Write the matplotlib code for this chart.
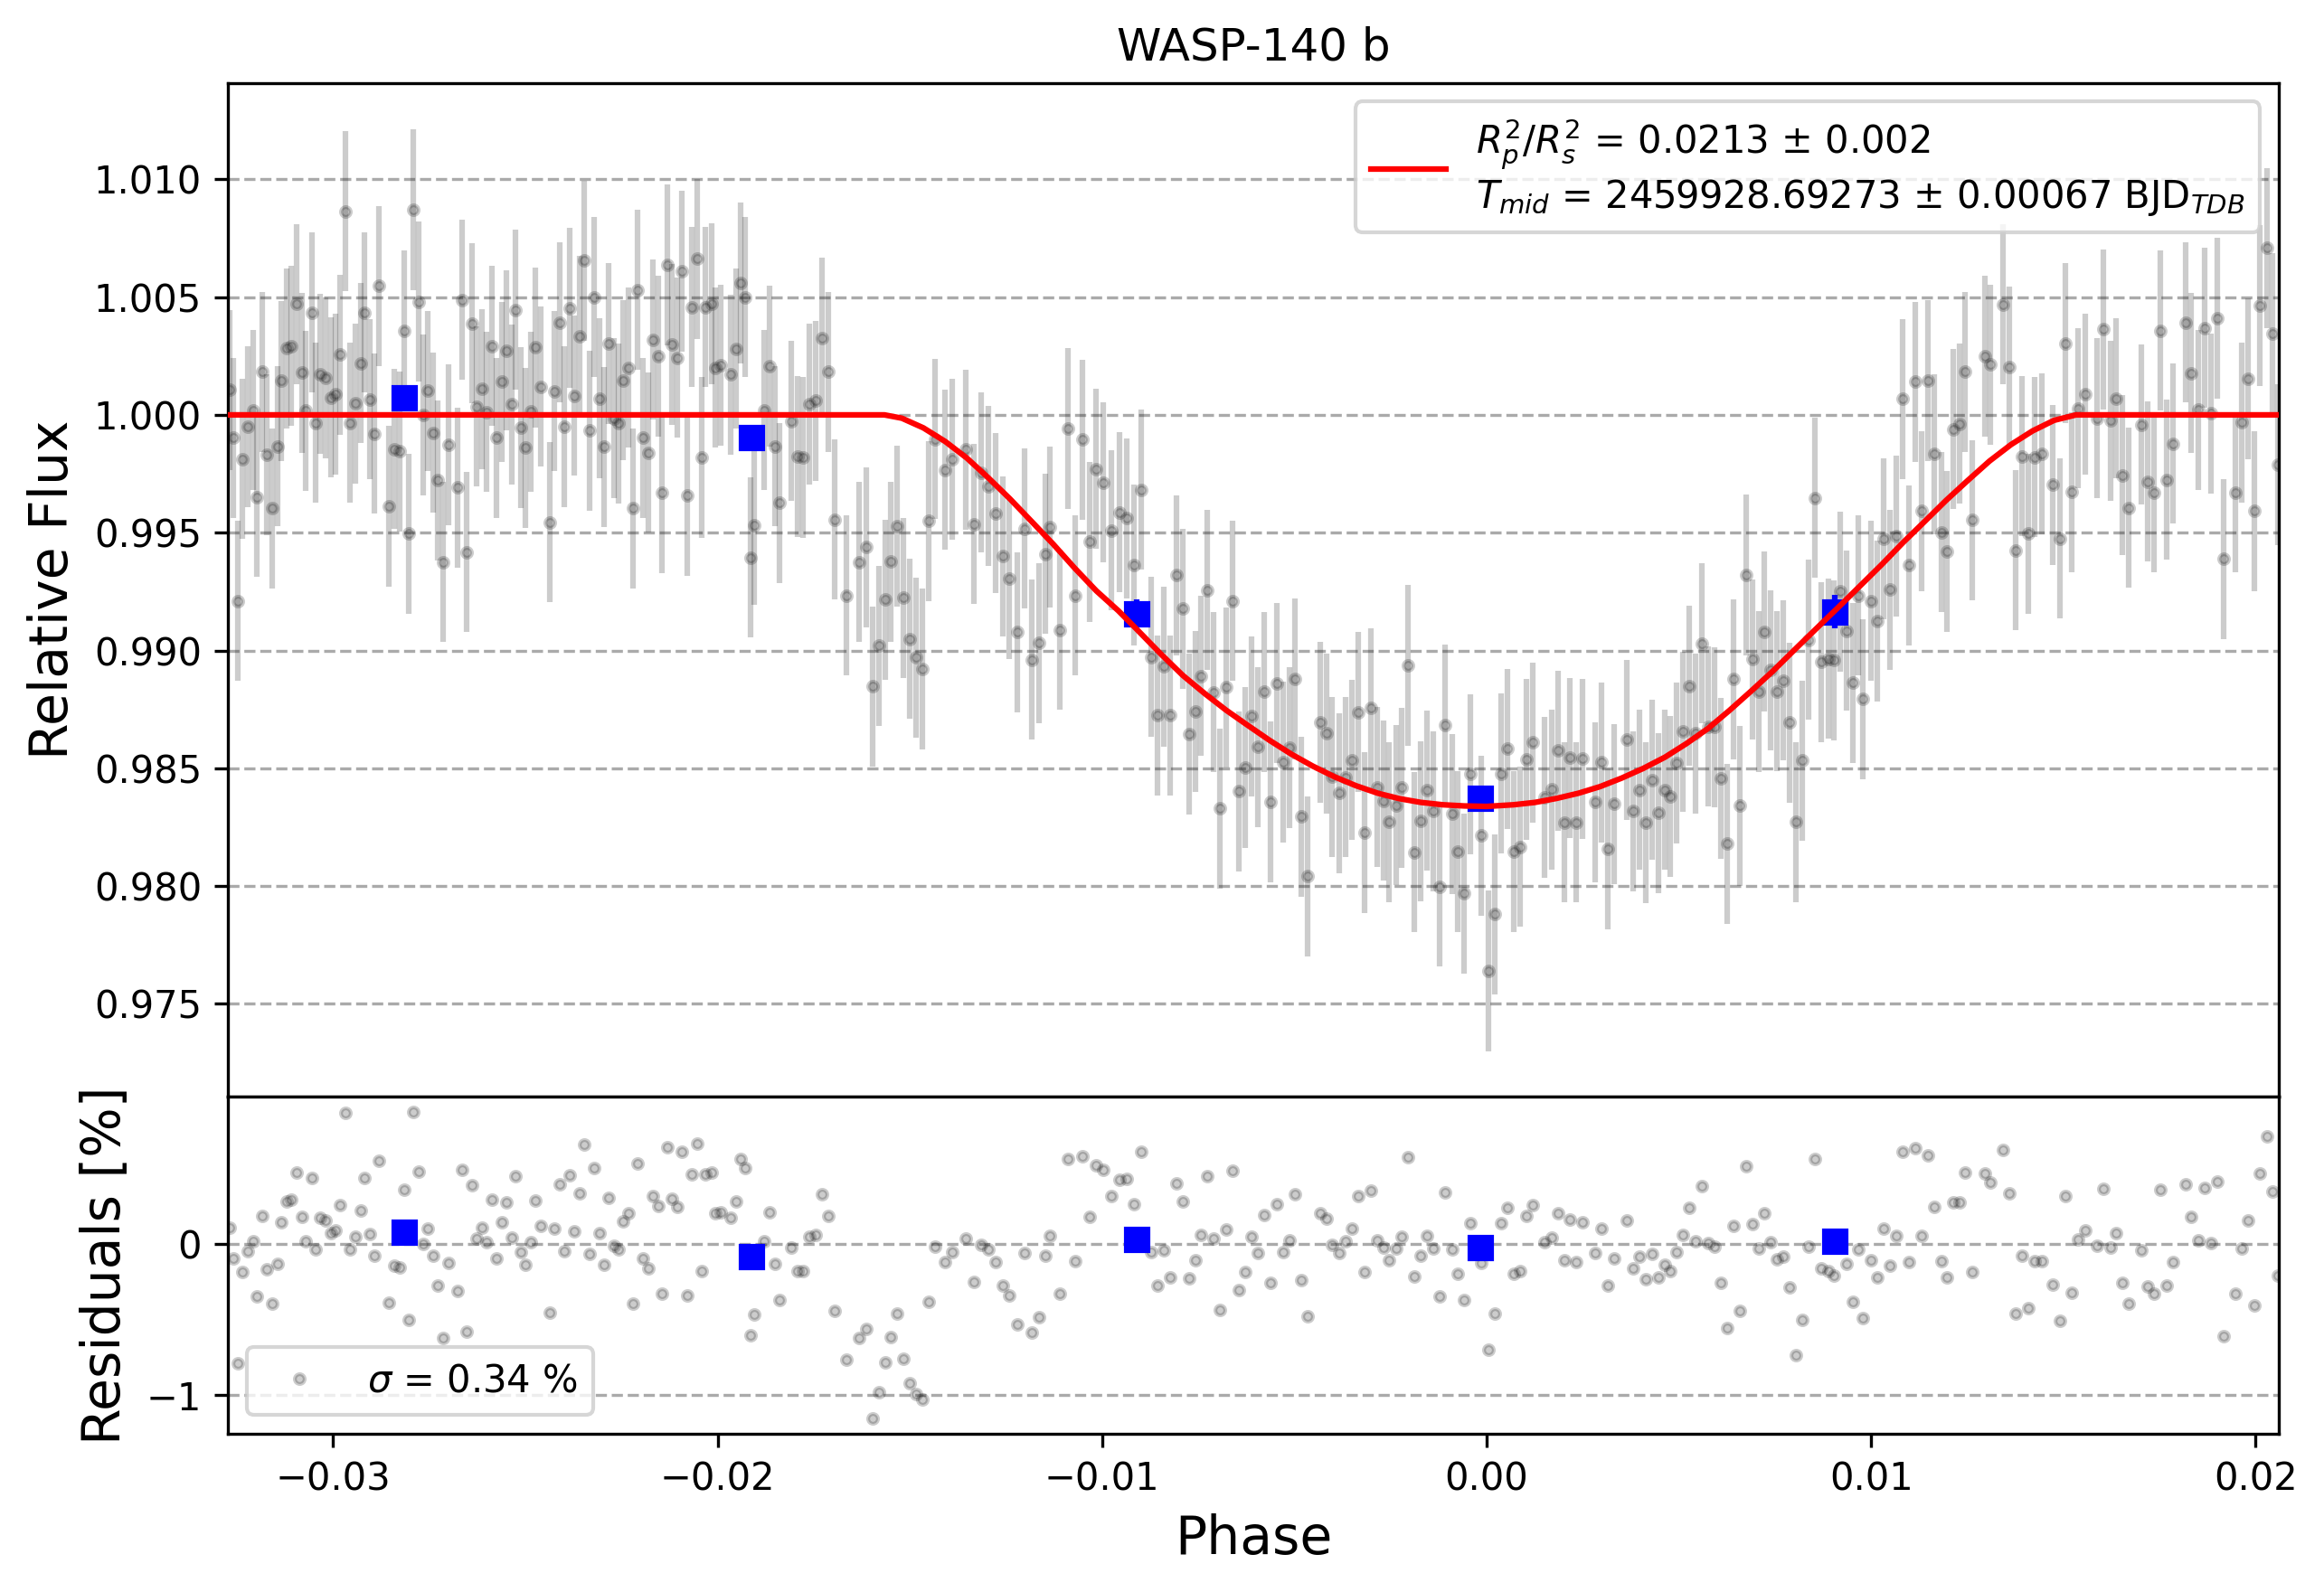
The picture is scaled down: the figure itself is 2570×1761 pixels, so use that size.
import numpy as np
import matplotlib
matplotlib.use("Agg")
import matplotlib.pyplot as plt

# residuals [%], in five stretches of phase
phase_1 = [-0.03269, -0.03259, -0.03247, -0.03235, -0.03221, -0.03209, -0.03198, -0.03184, -0.03172, -0.03158,
           -0.03145, -0.03134, -0.03122, -0.03109, -0.03095, -0.03082, -0.03071, -0.03056, -0.03045, -0.03033,
           -0.03020, -0.03006, -0.02993, -0.02981, -0.02969, -0.02956, -0.02943, -0.02929, -0.02918, -0.02905,
           -0.02893, -0.02880, -0.02854, -0.02842, -0.02828, -0.02816, -0.02803, -0.02791, -0.02778, -0.02765,
           -0.02753, -0.02740, -0.02727, -0.02715, -0.02701, -0.02676, -0.02664, -0.02652, -0.02638, -0.02626,
           -0.02614, -0.02601, -0.02588, -0.02575, -0.02562, -0.02550, -0.02536, -0.02525, -0.02511, -0.02500,
           -0.02487, -0.02474, -0.02461, -0.02436, -0.02424, -0.02410, -0.02398, -0.02384, -0.02372, -0.02359,
           -0.02347, -0.02334, -0.02322, -0.02308, -0.02296, -0.02283, -0.02270, -0.02258, -0.02245, -0.02231,
           -0.02219, -0.02208, -0.02195]
resid_1 = [0.106, -0.098, -0.789, -0.187, -0.050, 0.020, -0.349, 0.183, -0.169, -0.396,
           -0.133, 0.145, 0.283, 0.293, 0.470, 0.179, 0.018, 0.434, -0.034, 0.173,
           0.157, 0.074, 0.088, 0.255, 0.865, -0.034, 0.048, 0.219, 0.434, 0.066,
           -0.080, 0.548, -0.388, -0.145, -0.155, 0.357, -0.504, 0.871, 0.480, 0.000,
           0.102, -0.076, -0.277, -0.624, -0.127, -0.309, 0.488, -0.582, 0.388, 0.036,
           0.110, 0.012, 0.293, -0.098, 0.141, 0.273, 0.044, 0.446, -0.054, -0.139,
           0.014, 0.287, 0.120, -0.456, 0.100, 0.392, -0.050, 0.454, 0.082, 0.335,
           0.655, -0.066, 0.500, 0.070, -0.135, 0.303, -0.014, -0.036, 0.147, 0.201,
           -0.396, 0.530, -0.098]

phase_2 = [-0.02181, -0.02169, -0.02155, -0.02144, -0.02131, -0.02118, -0.02105, -0.02092, -0.02080, -0.02067,
           -0.02054, -0.02042, -0.02031, -0.02016, -0.02005, -0.01991, -0.01967, -0.01953, -0.01940, -0.01928,
           -0.01915, -0.01904, -0.01879, -0.01864, -0.01852, -0.01840, -0.01809, -0.01793, -0.01779, -0.01762,
           -0.01745, -0.01729, -0.01712, -0.01696, -0.01664, -0.01631, -0.01614, -0.01598, -0.01581, -0.01564,
           -0.01549, -0.01534, -0.01518, -0.01501, -0.01485, -0.01468, -0.01452, -0.01435, -0.01409, -0.01391,
           -0.01354, -0.01334, -0.01315, -0.01296, -0.01278, -0.01259, -0.01242, -0.01221, -0.01202, -0.01184,
           -0.01165, -0.01147, -0.01137]
resid_2 = [-0.161, 0.319, 0.249, -0.331, 0.637, 0.299, 0.243, 0.610, -0.343, 0.458,
           0.663, -0.181, 0.458, 0.472, 0.201, 0.211, 0.171, 0.281, 0.560, 0.500,
           -0.606, -0.468, 0.020, 0.207, -0.133, -0.373, -0.026, -0.177, -0.181, 0.046,
           0.060, 0.327, 0.183, -0.444, -0.767, -0.624, -0.562, -1.153, -0.980, -0.783,
           -0.618, -0.462, -0.761, -0.922, -0.990, -1.026, -0.382, -0.018, -0.122, -0.054,
           0.034, -0.253, -0.006, -0.036, -0.122, -0.275, -0.343, -0.534, -0.062, -0.588,
           -0.484, -0.076, 0.056]

phase_3 = [-0.01109, -0.01089, -0.01071, -0.01052, -0.01033, -0.01015, -0.00996, -0.00975, -0.00955, -0.00936,
           -0.00917, -0.00899, -0.00873, -0.00856, -0.00840, -0.00824, -0.00807, -0.00791, -0.00774, -0.00758,
           -0.00744, -0.00726, -0.00711, -0.00694, -0.00678, -0.00661, -0.00645, -0.00628, -0.00612, -0.00595,
           -0.00579, -0.00562, -0.00546, -0.00529, -0.00513, -0.00499, -0.00482, -0.00466, -0.00433, -0.00416,
           -0.00402, -0.00384, -0.00367, -0.00351, -0.00334, -0.00318, -0.00301, -0.00285, -0.00269, -0.00254,
           -0.00236, -0.00220, -0.00205, -0.00188, -0.00172, -0.00155, -0.00138, -0.00122, -0.00107, -0.00089,
           -0.00075]
resid_3 = [-0.331, 0.560, -0.116, 0.578, 0.177, 0.518, 0.488, 0.315, 0.422, 0.428,
           0.261, 0.610, -0.056, -0.275, -0.042, -0.223, 0.398, 0.281, -0.227, -0.110,
           0.060, 0.448, 0.034, -0.438, 0.096, 0.482, -0.307, -0.187, 0.048, -0.062,
           0.189, -0.259, 0.261, -0.056, 0.022, 0.327, -0.241, -0.480, 0.201, 0.167,
           -0.006, -0.062, 0.018, 0.102, 0.315, -0.187, 0.351, 0.024, -0.026, -0.110,
           -0.032, 0.048, 0.572, -0.217, -0.080, 0.054, -0.032, -0.349, 0.339, -0.036,
           -0.195]

phase_4 = [-0.00059, -0.00042, -0.00013, 0.00005, 0.00021, 0.00038, 0.00054, 0.00070, 0.00087, 0.00103,
           0.00120, 0.00151, 0.00169, 0.00186, 0.00202, 0.00216, 0.00233, 0.00249, 0.00282, 0.00299,
           0.00315, 0.00332, 0.00365, 0.00380, 0.00398, 0.00413, 0.00431, 0.00447, 0.00464, 0.00478,
           0.00494, 0.00511, 0.00527, 0.00544, 0.00560, 0.00576, 0.00593, 0.00609, 0.00626, 0.00642,
           0.00659, 0.00675, 0.00692, 0.00708, 0.00722, 0.00739, 0.00755, 0.00772, 0.00788, 0.00805,
           0.00821, 0.00838, 0.00854, 0.00871, 0.00888, 0.00904, 0.00919, 0.00936, 0.00953, 0.00967,
           0.00978]
resid_4 = [-0.371, 0.135, -0.124, -0.699, -0.460, 0.135, 0.239, -0.199, -0.181, 0.187,
           0.255, 0.014, 0.042, 0.201, -0.110, 0.159, -0.122, 0.141, -0.060, 0.100,
           -0.277, -0.098, 0.153, -0.161, -0.084, -0.235, -0.068, -0.223, -0.139, -0.181,
           -0.056, 0.060, 0.237, 0.016, 0.380, 0.008, -0.018, -0.257, -0.558, 0.118,
           -0.444, 0.512, 0.129, -0.032, 0.201, 0.012, -0.102, -0.084, -0.289, -0.737,
           -0.502, -0.016, 0.560, -0.163, -0.177, -0.207, 0.060, -0.133, -0.382, -0.034,
           -0.492]

phase_5 = [0.01000, 0.01016, 0.01033, 0.01049, 0.01066, 0.01083, 0.01099, 0.01115, 0.01132, 0.01148,
           0.01165, 0.01182, 0.01198, 0.01213, 0.01229, 0.01245, 0.01262, 0.01295, 0.01311, 0.01343,
           0.01360, 0.01377, 0.01393, 0.01408, 0.01426, 0.01443, 0.01473, 0.01490, 0.01506, 0.01522,
           0.01539, 0.01556, 0.01588, 0.01605, 0.01622, 0.01638, 0.01654, 0.01671, 0.01703, 0.01719,
           0.01735, 0.01752, 0.01768, 0.01784, 0.01817, 0.01833, 0.01850, 0.01867, 0.01883, 0.01900,
           0.01916, 0.01948, 0.01963, 0.01980, 0.01996, 0.02012, 0.02029, 0.02045, 0.02057]
resid_5 = [-0.110, -0.221, 0.100, -0.143, 0.056, 0.610, -0.122, 0.631, 0.056, 0.584,
           0.245, -0.114, -0.221, 0.275, 0.275, 0.470, -0.183, 0.464, 0.406, 0.622,
           0.335, -0.462, -0.080, -0.424, -0.116, -0.116, -0.271, -0.508, 0.315, -0.323,
           0.028, 0.088, -0.014, 0.363, -0.024, 0.070, -0.257, -0.394, -0.042, -0.283,
           -0.329, 0.357, -0.275, -0.122, 0.392, 0.177, 0.022, 0.369, 0.006, 0.410,
           -0.612, -0.329, -0.032, 0.153, -0.408, 0.464, 0.709, 0.345, -0.211]

flux_err = 0.0034

# fitted transit model
model_phase = [-0.03273, -0.01566, -0.01521, -0.01465, -0.01408, -0.01352, -0.01296, -0.01240, -0.01183, -0.01127,
               -0.01071, -0.01015, -0.00958, -0.00913, -0.00846, -0.00790, -0.00733, -0.00677, -0.00621, -0.00564,
               -0.00508, -0.00452, -0.00396, -0.00340, -0.00283, -0.00227, -0.00171, -0.00114, -0.00058, 0.00000,
               0.00070, 0.00126, 0.00182, 0.00239, 0.00295, 0.00351, 0.00407, 0.00464, 0.00520, 0.00576,
               0.00632, 0.00689, 0.00745, 0.00801, 0.00857, 0.00914, 0.00970, 0.01026, 0.01083, 0.01139,
               0.01195, 0.01251, 0.01308, 0.01364, 0.01420, 0.01476, 0.01533, 0.02061]
model_flux = [1.0, 1.0, 0.99986, 0.99945, 0.99887, 0.99817, 0.99733, 0.99644, 0.99547, 0.99451,
              0.99349, 0.99253, 0.99169, 0.99095, 0.98983, 0.98894, 0.98817, 0.98746, 0.98682, 0.98618,
              0.98560, 0.98509, 0.98464, 0.98426, 0.98394, 0.98371, 0.98355, 0.98345, 0.98340, 0.98338,
              0.98345, 0.98355, 0.98372, 0.98394, 0.98422, 0.98458, 0.98499, 0.98547, 0.98605, 0.98669,
              0.98746, 0.98829, 0.98913, 0.99003, 0.99092, 0.99182, 0.99272, 0.99362, 0.99458, 0.99547,
              0.99637, 0.99721, 0.99804, 0.99874, 0.99932, 0.99977, 1.0, 1.0]

# binned points
bin_phase = [-0.02816, -0.01911, -0.00911, -0.00016, 0.00906]
bin_flux = [1.00071, 0.99905, 0.99157, 0.98374, 0.99165]
bin_err = [0.0004, 0.0005, 0.0006, 0.0005, 0.0007]
bin_resid = [0.076, -0.086, 0.028, -0.026, 0.016]

phase = np.array(phase_1 + phase_2 + phase_3 + phase_4 + phase_5)
resid = np.array(resid_1 + resid_2 + resid_3 + resid_4 + resid_5)
assert len(phase) == len(resid)

# data = model + residual
flux = np.interp(phase, model_phase, model_flux) + resid / 100.0

fig = plt.figure(figsize=(2570 / 300, 1761 / 300), dpi=300)
ax1 = fig.add_axes([0.09817, 0.31101, 0.88249, 0.63703])
ax2 = fig.add_axes([0.09817, 0.09938, 0.88249, 0.21163], sharex=ax1)

# top panel
ax1.errorbar(phase, flux, yerr=flux_err, fmt='ko', alpha=0.2, ms=2.6)
ax1.errorbar(bin_phase, bin_flux, yerr=bin_err, fmt='s', color='blue', ms=6, zorder=3)
ax1.plot(model_phase, model_flux, 'r-', lw=1.5, zorder=4,
         label=r'$R_p^2/R_s^2$ = 0.0213 ± 0.002' + '\n' +
               r'$T_{mid}$ = 2459928.69273 ± 0.00067 BJD$_{TDB}$')
ax1.legend(loc='upper right')
ax1.set_title('WASP-140 b')
ax1.set_ylabel('Relative Flux', fontsize=14)
ax1.set_yticks([0.975, 0.980, 0.985, 0.990, 0.995, 1.000, 1.005, 1.010])
ax1.set_ylim(0.97105, 1.01410)
ax1.set_xlim(-0.03273, 0.02061)
ax1.grid(axis='y', ls='--', color='#aaaaaa')
ax1.tick_params(axis='x', bottom=False, labelbottom=False)

# residuals
ax2.plot(phase, resid, 'ko', alpha=0.2, ms=2.6, label=r'$\sigma$ = 0.34 %')
ax2.errorbar(bin_phase, bin_resid, yerr=np.array(bin_err) * 100, fmt='s', color='blue', ms=6, zorder=3)
ax2.legend(loc='lower left')
ax2.set_yticks([-1, 0])
ax2.set_ylim(-1.255, 0.972)
ax2.grid(axis='y', ls='--', color='#aaaaaa')
ax2.set_xlabel('Phase', fontsize=14)
ax2.set_ylabel('Residuals [%]', fontsize=14)

fig.align_ylabels([ax1, ax2])
fig.savefig('out.png', dpi=300)
